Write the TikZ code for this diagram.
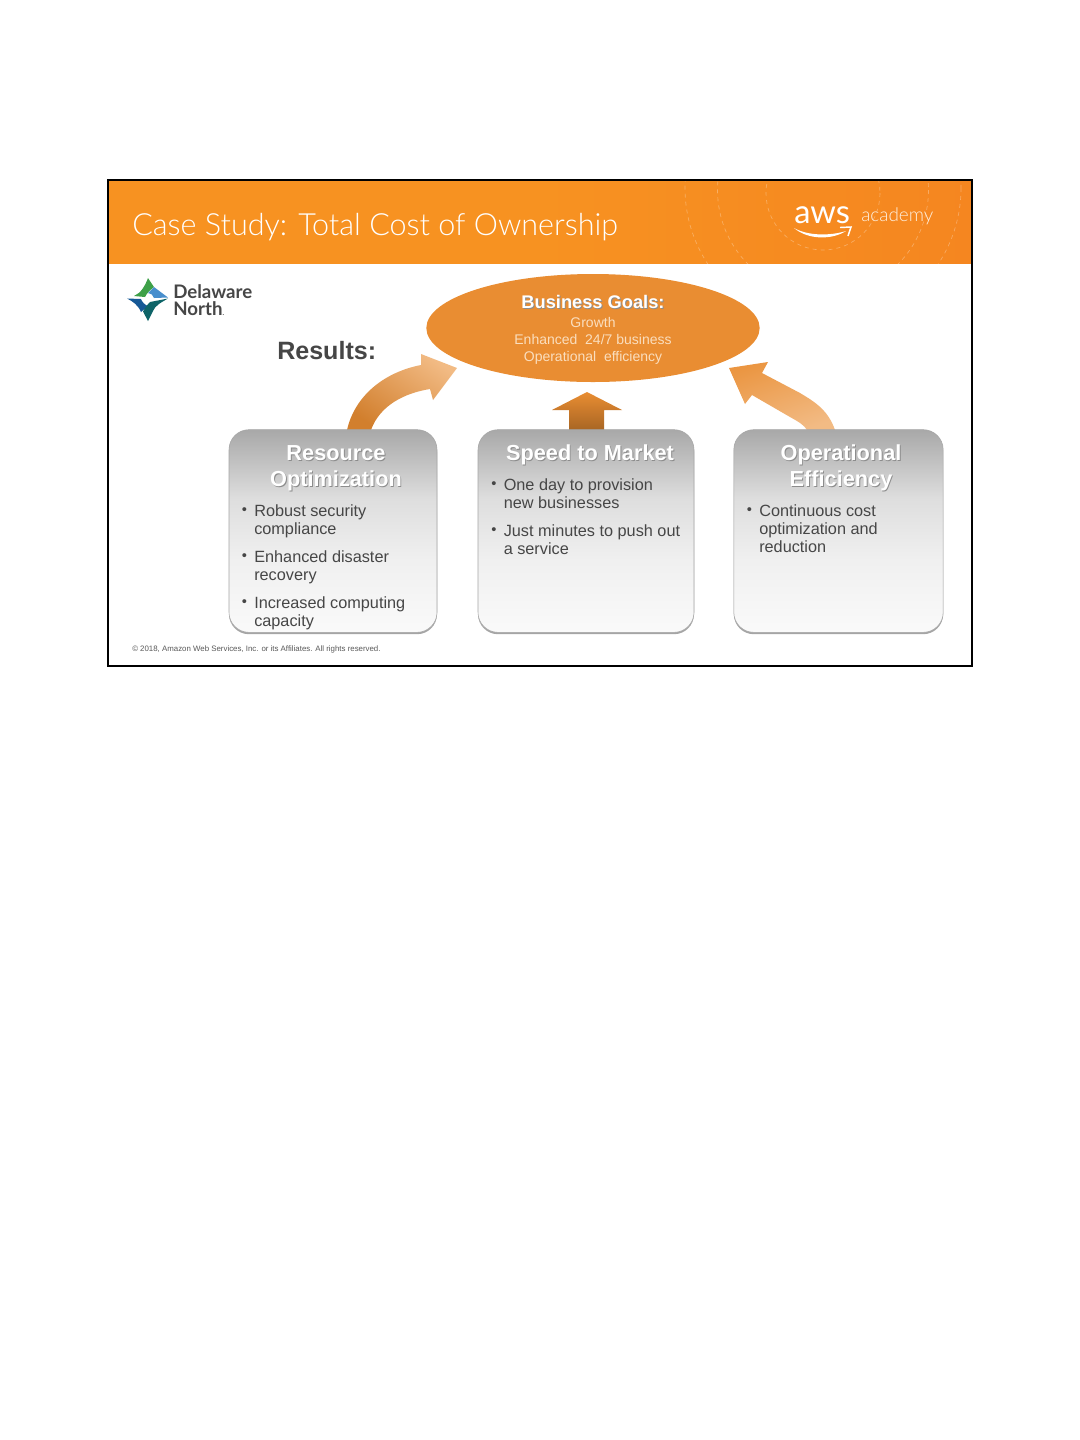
\documentclass[tikz,border=0pt]{standalone}
\usepackage{fontspec}
\setmainfont{Liberation Sans}
\newfontfamily\titlefont{Lato Light}
\newfontfamily\brandfont{Lato}
\usetikzlibrary{arrows.meta,positioning,shapes.geometric,shadows}
\definecolor{band}{RGB}{247,146,33}
\definecolor{bandend}{RGB}{245,134,32}
\definecolor{goal}{RGB}{233,141,50}
\definecolor{ink}{RGB}{70,70,70}
\definecolor{pale}{RGB}{250,222,190}
\definecolor{leafgreen}{RGB}{62,160,72}
\definecolor{leafblue}{RGB}{72,142,205}
\definecolor{leafnavy}{RGB}{22,88,150}
\definecolor{leafteal}{RGB}{14,100,104}
\newcommand{\shtext}[1]{\leavevmode\rlap{\raisebox{-0.7pt}{\kern0.7pt\textcolor{black!45}{#1}}}#1}
\pgfdeclareverticalshading{cardshade}{100bp}{
  color(0bp)=(black!2); color(25bp)=(black!2); color(43bp)=(black!6); color(58bp)=(black!13); color(75bp)=(black!34); color(100bp)=(black!34)}
\tikzset{
  card/.style={draw=black!35,rounded corners=15pt,minimum width=#1,minimum height=152pt,
    shading=cardshade,drop shadow={opacity=0.7,shadow xshift=0pt,shadow yshift=-1.4pt}},
  cardhead/.style={font=\fontsize{16.3}{19.5}\selectfont\bfseries,text=white,align=center},
  item/.style={font=\fontsize{12.2}{13.5}\selectfont,text=ink,align=left,anchor=north west,inner sep=0pt},
  dot/.style={font=\fontsize{11}{12}\selectfont,text=ink,inner sep=0pt},
  goalline/.style={font=\fontsize{10.5}{13}\selectfont,text=pale,inner sep=0pt,anchor=base},
  ring/.style={draw=white,opacity=0.3,dashed,line width=0.5pt},
}
\begin{document}
\begin{tikzpicture}[x=0.75pt,y=-0.75pt]
  \useasboundingbox (0,0) rectangle (1080,1440);
  \fill[white] (0,0) rectangle (1080,1440);
  % orange band
  \shade[left color=band,right color=bandend,middle color=band] (108,180) rectangle (972,263);
  \begin{scope}
    \clip (108,180) rectangle (972,263);
    \draw[ring] (823,193) circle (57);
    \draw[ring] (823,190) circle (105.5);
    \draw[ring] (823,188) circle (138);
  \end{scope}
  \node[anchor=base west,inner sep=0pt,text=white,font=\titlefont\fontsize{22.9}{28}\selectfont] (title) at (132,235) {Case Study: Total Cost of Ownership};
  \node[anchor=base west,inner sep=0pt,text=white,font=\brandfont\fontsize{24.5}{26}\selectfont] (aws) at (794,223) {aws};
  \node[anchor=base west,inner sep=0pt,text=white!85!band,font=\titlefont\fontsize{14.2}{16}\selectfont] (academy) at (861,221) {academy};
  \fill[white] (794,228) .. controls (808,236) and (830,236) .. (846,231) .. controls (832,240) and (808,240) .. cycle;
  \draw[white,line width=1.1pt] (840,227.5) -- (851,227) -- (848,236);
  % logo
  \fill[leafgreen] (148,278) -- (154,287) .. controls (150,290) and (147,293) .. (145,297) -- (134,296) .. controls (141,293) and (145,286) .. cycle;
  \fill[leafblue] (154,287) -- (168,297.5) -- (154,298) .. controls (153,295) and (151,293) .. (148,293) .. controls (150,291) and (152,289) .. cycle;
  \fill[leafnavy] (127,298.5) -- (141,299) .. controls (142,302) and (145,305) .. (148,306) -- (141,312) .. controls (138,305) and (133,301.5) .. cycle;
  \fill[leafteal] (168,298.5) -- (150,302) .. controls (147,305) and (145,308) .. (143,311.5) -- (148,321) -- (153,311) .. controls (155,306) and (160,303) .. cycle;
  \node[anchor=base west,inner sep=0pt,text=ink,font=\brandfont\bfseries\fontsize{14}{16}\selectfont] (dnorth) at (173,298) {Delaware};
  \node[anchor=base west,inner sep=0pt,text=ink,font=\brandfont\bfseries\fontsize{14}{16}\selectfont] (north) at (173,315) {North{\fontsize{5}{6}\selectfont.}};
  \node[anchor=base west,inner sep=0pt,text=ink,font=\fontsize{18.8}{22}\selectfont\bfseries] (results) at (277,359) {Results:};
  % goal
  \node[ellipse,fill=goal,minimum width=250pt,minimum height=81pt,inner sep=0pt] (goals) at (593,328) {};
  \node[inner sep=0pt,text=white,font=\fontsize{13.7}{16}\selectfont\bfseries] (goalhead) at (593,302) {\shtext{Business Goals:}};
  \node[goalline] (g1) at (593,327) {Growth};
  \node[goalline] (g2) at (593,344) {Enhanced\ \ 24/7 business};
  \node[goalline] (g3) at (593,361) {Operational\ \ efficiency};
  % arrows
  \shade[bottom color=goal!90!black,top color=goal!60,shading angle=-35] (347,430) .. controls (355,395) and (385,372) .. (421,365) -- (421,354) -- (457,368) -- (433,400) -- (430,389) .. controls (405,393) and (380,405) .. (371,430) -- cycle;
  \shade[bottom color=goal!72!black,top color=goal] (569,430) -- (569,410) -- (552,410) -- (587,392) -- (622,410) -- (604,410) -- (604,430) -- cycle;
  \shade[left color=goal!92,right color=goal!60,shading angle=20] (835,430) .. controls (828,410) and (815,402) .. (800,393) -- (762,373) -- (768,362) -- (729,368) -- (745,404) -- (752,395) -- (790,417) .. controls (799,422) and (804,425) .. (807,430) -- cycle;
  % cards
  \node[card=156pt] (res) at (333,531) {};
  \node[card=162pt] (spd) at (586,531) {};
  \node[card=157pt] (ops) at (838.5,531) {};
  \node[cardhead] (reshead) at (336,468.5) {\shtext{Resource}\\[0pt]\shtext{Optimization}};
  \node[cardhead] (spdhead) at (590,455) {\shtext{Speed to Market}};
  \node[cardhead] (opshead) at (841,468.5) {\shtext{Operational}\\[0pt]\shtext{Efficiency}};
  % bullet lists
  \foreach \nm/\x/\y/\txt in {
    a/254/504/{Robust security\\compliance},
    b/254/550/{Enhanced disaster\\recovery},
    c/254/596/{Increased computing\\capacity},
    d/503.5/478/{One day to provision\\new businesses},
    e/503.5/524/{Just minutes to push out\\a service},
    f/759/504/{Continuous cost\\optimization and\\reduction}}{
    \node[item] (\nm) at (\x,\y) {\txt};
    \node[dot,left=5pt of \nm.north west,yshift=-5.5pt] (\nm dot) {•};
  }
  \node[anchor=base west,inner sep=0pt,text=black!65,font=\fontsize{5.9}{7}\selectfont] (copy) at (132,651) {© 2018, Amazon Web Services, Inc. or its Affiliates. All rights reserved.};
  \draw[black,line width=1.5pt] (108,180) rectangle (972,666);
\end{tikzpicture}
\end{document}
